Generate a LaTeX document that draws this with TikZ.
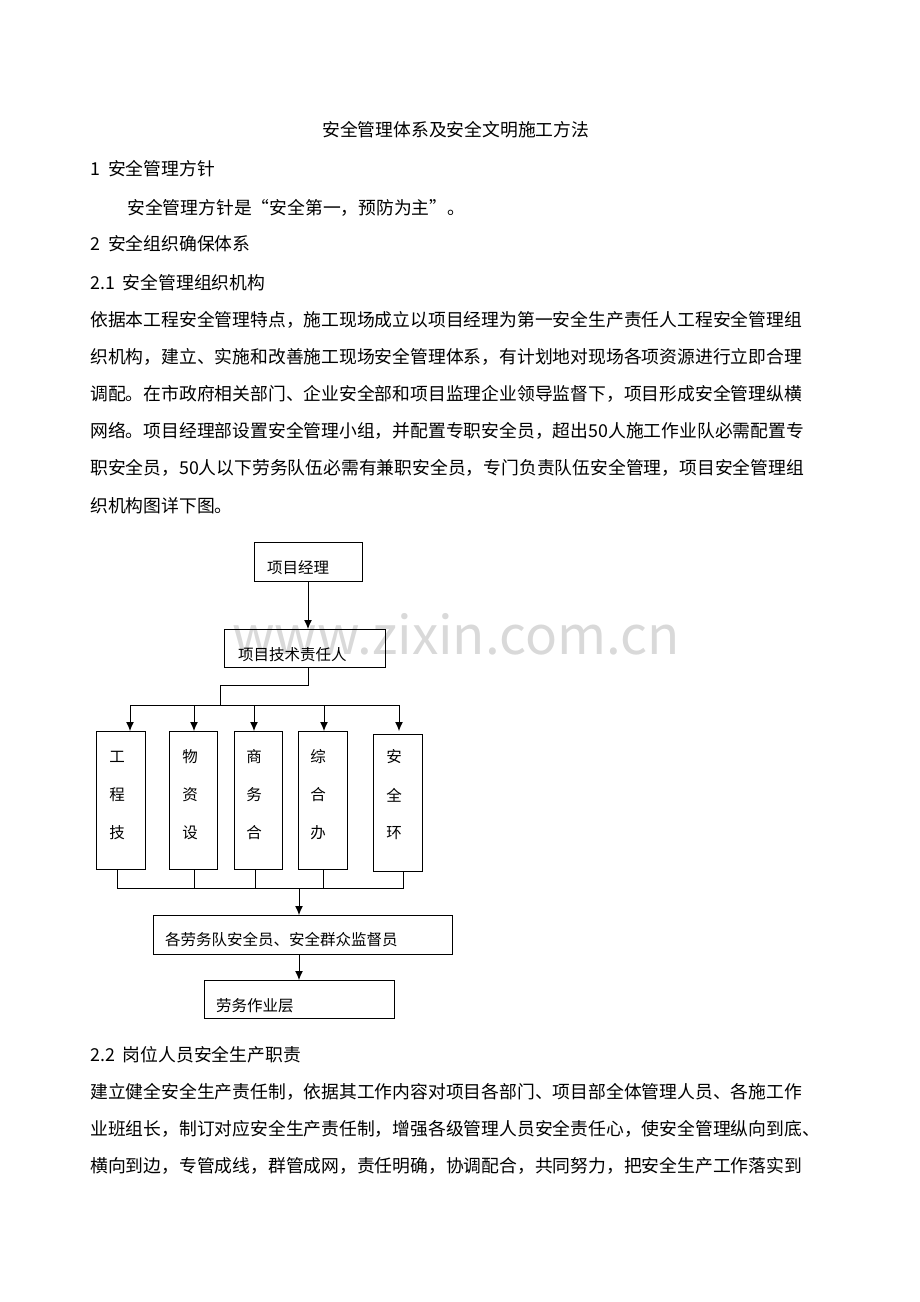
\documentclass[tikz,border=0pt]{standalone}
\usepackage{fontspec}
\usetikzlibrary{arrows.meta}
\setmainfont{Noto Sans CJK SC}
\XeTeXlinebreaklocale "zh"
\XeTeXlinebreakskip=0pt plus 1fil
\newcommand\fullline[1]{\hbox to 740pt{#1}}
\begin{document}
\begin{tikzpicture}[x=1pt,y=-1pt,
  txt/.style={anchor=base west,inner sep=0,font=\fontsize{17.8}{20}\selectfont},
  btxt/.style={anchor=west,inner sep=0,font=\fontsize{15.5}{18}\selectfont},
  box/.style={draw,line width=1pt},
  arr/.style={-{Latex[length=9pt,width=8pt]},line width=1pt},
  ln/.style={line width=1pt}]
\useasboundingbox (0,0) rectangle (920,1302);
\node[anchor=center,text=black!15,font=\fontsize{53}{60}\selectfont] (wm) at (456,634) {www.zixin.com.cn};
\node[txt] (t) at (322,136) {安全管理体系及安全文明施工方法};
\node[txt] (h1) at (90,175) {1\ \ 安全管理方针};
\node[txt] (p0) at (127,214) {安全管理方针是“安全第一，预防为主”。};
\node[txt] (h2) at (90,250) {2\ \ 安全组织确保体系};
\node[txt] (h21) at (90,289) {2.1\ \ 安全管理组织机构};
\node[txt] (l1) at (90,326) {\fullline{依据本工程安全管理特点，施工现场成立以项目经理为第一安全生产责任人工程安全管理组}};
\node[txt] (l2) at (90,363) {\fullline{织机构，建立、实施和改善施工现场安全管理体系，有计划地对现场各项资源进行立即合理}};
\node[txt] (l3) at (90,400) {\fullline{调配。在市政府相关部门、企业安全部和项目监理企业领导监督下，项目形成安全管理纵横}};
\node[txt] (l4) at (90,437) {\fullline{网络。项目经理部设置安全管理小组，并配置专职安全员，超出50人施工作业队必需配置专}};
\node[txt] (l5) at (90,474) {\fullline{职安全员，50人以下劳务队伍必需有兼职安全员，专门负责队伍安全管理，项目安全管理组}};
\node[txt] (l6) at (90,512) {织机构图详下图。};
\node[txt] (h22) at (90,1061) {2.2\ \ 岗位人员安全生产职责};
\node[txt] (m1) at (90,1098) {\fullline{建立健全安全生产责任制，依据其工作内容对项目各部门、项目部全体管理人员、各施工作}};
\node[txt] (m2) at (90,1135) {\fullline{业班组长，制订对应安全生产责任制，增强各级管理人员安全责任心，使安全管理纵向到底、}};
\node[txt] (m3) at (90,1172) {\fullline{横向到边，专管成线，群管成网，责任明确，协调配合，共同努力，把安全生产工作落实到}};
% diagram
\draw[box] (254,542) rectangle (362,581);
\node[btxt] (b1) at (267,568) {项目经理};
\draw[box] (224,629) rectangle (385,667);
\node[btxt] (b2) at (238,655) {项目技术责任人};
\draw[arr] (308,581) -- (308,629);
\draw[ln] (308,667) -- (308,685) -- (220,685) -- (220,705);
\draw[ln] (130,705) -- (399,705);
\foreach \x in {130,194,254,324,399} \draw[arr] (\x,705) -- (\x,731);
\foreach \a/\b/\bt/\s/\c/\d/\e in {96/145/869/117/工/程/技,169/217/869/190/物/资/设,234/282/869/254/商/务/合,298/347/869/318/综/合/办,373/422/871/394/安/全/环}{
  \draw[box] (\a,{\a==373?734:731}) rectangle (\b,\bt);
  \node[btxt,anchor=center] at (\s,757) {\c};
  \node[btxt,anchor=center] at (\s,795) {\d};
  \node[btxt,anchor=center] at (\s,833) {\e};
}
\foreach \x/\y in {117/869,194/869,255/869,323/869,403/871} \draw[ln] (\x,\y) -- (\x,888);
\draw[ln] (117,888) -- (404,888);
\draw[box] (153,915) rectangle (452,954);
\node[btxt] (b6) at (165,940) {各劳务队安全员、安全群众监督员};
\draw[arr] (299,888) -- (299,915);
\draw[box] (204,980) rectangle (394,1018);
\node[btxt] (b7) at (216,1006) {劳务作业层};
\draw[arr] (299,954) -- (299,980);
\end{tikzpicture}
\end{document}
